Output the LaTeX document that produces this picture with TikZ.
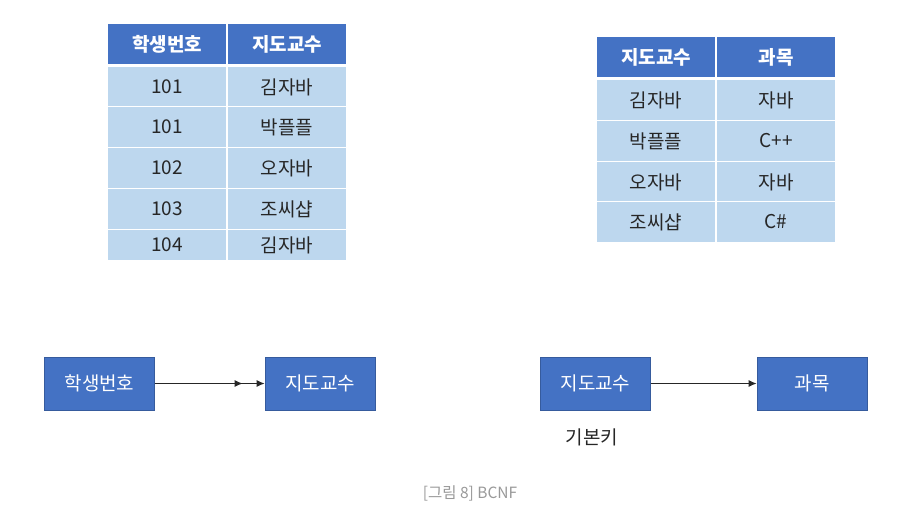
\documentclass[tikz,border=0pt]{standalone}
\usepackage{fontspec}
\setmainfont{Noto Sans CJK KR}
\usepackage{tikz}
\usetikzlibrary{arrows.meta,positioning}
\definecolor{headblue}{RGB}{68,114,196}
\definecolor{cellblue}{RGB}{189,215,238}
\definecolor{celltext}{RGB}{38,38,38}

\begin{document}
\begin{tikzpicture}[x=1pt,y=-1pt,>=Latex, every node/.style={font=\fontsize{19}{22}\selectfont}]
\tikzset{
  headcell/.style={draw=white,line width=1.5pt,fill=headblue,text=white,minimum width=120pt,minimum height=41pt,inner sep=0pt,font=\fontsize{19}{22}\selectfont\bfseries},
  bodycell/.style={draw=white,line width=1.5pt,fill=cellblue,text=celltext,minimum width=120pt,minimum height=41pt,inner sep=0pt},
  keybox/.style={draw=headblue!80!black,line width=0.8pt,fill=headblue,text=white,minimum width=110pt,minimum height=53pt,inner sep=0pt},
  fdarrow/.style={draw=black!85,line width=1pt}
}
\useasboundingbox (0,0) rectangle (912,512);
% student - advisor table
\node[headcell] (sh1) at (167,44) {학생번호};
\node[headcell] (sh2) at (287,44) {지도교수};
\foreach \y/\a/\b [count=\i] in {87/101/김자바, 127/101/박플플, 168/102/오자바, 209/103/조씨샵} {
  \node[bodycell] (sa\i) at (167,\y) {\a};
  \node[bodycell] (sb\i) at (287,\y) {\b};
}
\node[bodycell,minimum height=31pt] (sa5) at (167,245) {104};
\node[bodycell,minimum height=31pt] (sb5) at (287,245) {김자바};
% advisor - subject table
\node[headcell] (ch1) at (656,57) {지도교수};
\node[headcell] (ch2) at (776,57) {과목};
\foreach \y/\a/\b [count=\i] in {100/김자바/자바, 141/박플플/C++, 182/오자바/자바, 222/조씨샵/C\#} {
  \node[bodycell] (ca\i) at (656,\y) {\a};
  \node[bodycell] (cb\i) at (776,\y) {\b};
}
% dependencies
\node[keybox] (sno) at (99.5,383.5) {학생번호};
\node[keybox] (adv) at (320,383.5) {지도교수};
\node[keybox] (adv2) at (595.5,383.5) {지도교수};
\node[keybox] (subj) at (812,383.5) {과목};
\node[text=celltext] (pk) at (592,437) {기본키};
\draw[fdarrow,-{Latex[length=8pt,width=7pt,sep=14pt]Latex[length=8pt,width=7pt]}] (sno) -- (adv);
\draw[fdarrow,-{Latex[length=8pt,width=7pt]}] (adv2) -- (subj);
% caption
\node[text=black!40,font=\fontsize{15.5}{18}\selectfont] (cap) at (470,493) {[그림 8] BCNF};
\end{tikzpicture}
\end{document}
